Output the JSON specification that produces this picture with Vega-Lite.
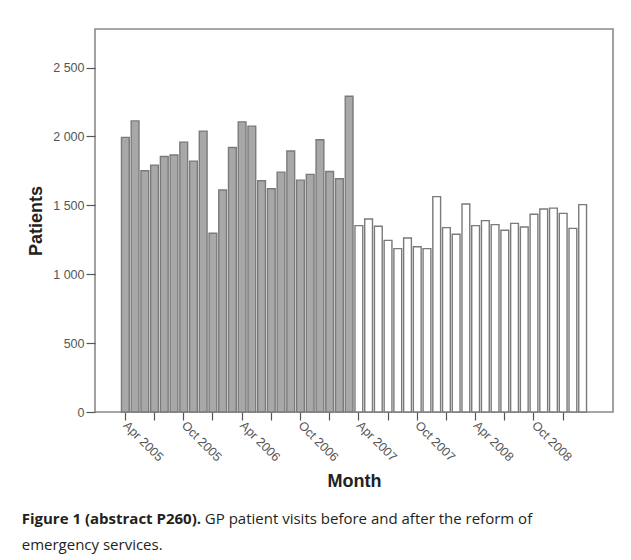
{
  "$schema": "https://vega.github.io/schema/vega-lite/v6.json",
  "width": 518,
  "height": 383,
  "autosize": {"type": "none"},
  "padding": {"left": 95, "top": 29, "right": 18, "bottom": 148},
  "background": "white",
  "title": {
    "text": "Figure 1 (abstract P260).",
    "subtitle": ["\u200b\u00a0\u00a0\u00a0\u00a0\u00a0\u00a0\u00a0\u00a0\u00a0\u00a0\u00a0\u00a0\u00a0\u00a0\u00a0\u00a0\u00a0\u00a0\u00a0\u00a0\u00a0\u00a0\u00a0\u00a0\u00a0\u00a0\u00a0\u00a0\u00a0\u00a0\u00a0\u00a0\u00a0\u00a0\u00a0\u00a0\u00a0\u00a0\u00a0\u00a0\u00a0\u00a0\u00a0\u00a0\u00a0\u00a0\u00a0GP patient visits before and after the reform of", "emergency services."],
    "orient": "bottom",
    "anchor": "start",
    "frame": "bounds",
    "offset": 22,
    "dx": -6,
    "font": "Open Sans",
    "fontSize": 15,
    "fontWeight": "bold",
    "color": "#231f20",
    "subtitleFont": "Open Sans",
    "subtitleFontSize": 15,
    "subtitleFontWeight": "normal",
    "subtitleColor": "#231f20",
    "subtitleLineHeight": 26,
    "subtitlePadding": -15
  },
  "data": {
    "values": [
      {"month": "Apr 2005", "patients": 1993, "period": "before"},
      {"month": "May 2005", "patients": 2113, "period": "before"},
      {"month": "Jun 2005", "patients": 1751, "period": "before"},
      {"month": "Jul 2005", "patients": 1792, "period": "before"},
      {"month": "Aug 2005", "patients": 1855, "period": "before"},
      {"month": "Sep 2005", "patients": 1865, "period": "before"},
      {"month": "Oct 2005", "patients": 1959, "period": "before"},
      {"month": "Nov 2005", "patients": 1821, "period": "before"},
      {"month": "Dec 2005", "patients": 2039, "period": "before"},
      {"month": "Jan 2006", "patients": 1297, "period": "before"},
      {"month": "Feb 2006", "patients": 1611, "period": "before"},
      {"month": "Mar 2006", "patients": 1920, "period": "before"},
      {"month": "Apr 2006", "patients": 2106, "period": "before"},
      {"month": "May 2006", "patients": 2075, "period": "before"},
      {"month": "Jun 2006", "patients": 1679, "period": "before"},
      {"month": "Jul 2006", "patients": 1621, "period": "before"},
      {"month": "Aug 2006", "patients": 1741, "period": "before"},
      {"month": "Sep 2006", "patients": 1894, "period": "before"},
      {"month": "Oct 2006", "patients": 1683, "period": "before"},
      {"month": "Nov 2006", "patients": 1725, "period": "before"},
      {"month": "Dec 2006", "patients": 1976, "period": "before"},
      {"month": "Jan 2007", "patients": 1746, "period": "before"},
      {"month": "Feb 2007", "patients": 1693, "period": "before"},
      {"month": "Mar 2007", "patients": 2292, "period": "before"},
      {"month": "Apr 2007", "patients": 1353, "period": "after"},
      {"month": "May 2007", "patients": 1401, "period": "after"},
      {"month": "Jun 2007", "patients": 1348, "period": "after"},
      {"month": "Jul 2007", "patients": 1246, "period": "after"},
      {"month": "Aug 2007", "patients": 1186, "period": "after"},
      {"month": "Sep 2007", "patients": 1263, "period": "after"},
      {"month": "Oct 2007", "patients": 1200, "period": "after"},
      {"month": "Nov 2007", "patients": 1186, "period": "after"},
      {"month": "Dec 2007", "patients": 1563, "period": "after"},
      {"month": "Jan 2008", "patients": 1338, "period": "after"},
      {"month": "Feb 2008", "patients": 1290, "period": "after"},
      {"month": "Mar 2008", "patients": 1510, "period": "after"},
      {"month": "Apr 2008", "patients": 1353, "period": "after"},
      {"month": "May 2008", "patients": 1389, "period": "after"},
      {"month": "Jun 2008", "patients": 1360, "period": "after"},
      {"month": "Jul 2008", "patients": 1319, "period": "after"},
      {"month": "Aug 2008", "patients": 1369, "period": "after"},
      {"month": "Sep 2008", "patients": 1343, "period": "after"},
      {"month": "Oct 2008", "patients": 1435, "period": "after"},
      {"month": "Nov 2008", "patients": 1473, "period": "after"},
      {"month": "Dec 2008", "patients": 1480, "period": "after"},
      {"month": "Jan 2009", "patients": 1442, "period": "after"},
      {"month": "Feb 2009", "patients": 1333, "period": "after"},
      {"month": "Mar 2009", "patients": 1505, "period": "after"}
    ]
  },
  "mark": {"type": "bar", "stroke": "#7a7a7a", "strokeWidth": 1.4},
  "encoding": {
    "x": {
      "field": "month",
      "type": "ordinal",
      "sort": null,
      "scale": {
        "domain": ["Feb 2005", "Mar 2005", "Apr 2005", "May 2005", "Jun 2005", "Jul 2005", "Aug 2005", "Sep 2005", "Oct 2005", "Nov 2005", "Dec 2005", "Jan 2006", "Feb 2006", "Mar 2006", "Apr 2006", "May 2006", "Jun 2006", "Jul 2006", "Aug 2006", "Sep 2006", "Oct 2006", "Nov 2006", "Dec 2006", "Jan 2007", "Feb 2007", "Mar 2007", "Apr 2007", "May 2007", "Jun 2007", "Jul 2007", "Aug 2007", "Sep 2007", "Oct 2007", "Nov 2007", "Dec 2007", "Jan 2008", "Feb 2008", "Mar 2008", "Apr 2008", "May 2008", "Jun 2008", "Jul 2008", "Aug 2008", "Sep 2008", "Oct 2008", "Nov 2008", "Dec 2008", "Jan 2009", "Feb 2009", "Mar 2009", "Apr 2009", "May 2009"],
        "paddingInner": 0.2,
        "paddingOuter": 0.72
      },
      "axis": {
        "title": "Month",
        "titleFont": "Liberation Sans",
        "titleFontSize": 18,
        "titleFontWeight": "bold",
        "titleColor": "#222",
        "titlePadding": 9,
        "values": ["Apr 2005", "Jul 2005", "Oct 2005", "Jan 2006", "Apr 2006", "Jul 2006", "Oct 2006", "Jan 2007", "Apr 2007", "Jul 2007", "Oct 2007", "Jan 2008", "Apr 2008", "Jul 2008", "Oct 2008", "Jan 2009"],
        "labelExpr": "indexof(datum.value, 'Apr') == 0 || indexof(datum.value, 'Oct') == 0 ? datum.value : ''",
        "labelAngle": 45,
        "labelAlign": "left",
        "labelBaseline": "middle",
        "labelFont": "Liberation Sans",
        "labelFontSize": 12.5,
        "labelColor": "#555",
        "labelPadding": 3,
        "labelOverlap": false,
        "tickSize": 8,
        "tickColor": "#555",
        "tickWidth": 1.2,
        "domain": false,
        "grid": false
      }
    },
    "y": {
      "field": "patients",
      "type": "quantitative",
      "scale": {"domain": [0, 2780], "nice": false},
      "axis": {
        "title": "Patients",
        "titleFont": "Liberation Sans",
        "titleFontSize": 18,
        "titleFontWeight": "bold",
        "titleColor": "#222",
        "titlePadding": 7,
        "values": [0, 500, 1000, 1500, 2000, 2500],
        "labelExpr": "replace(format(datum.value, ','), ',', ' ')",
        "labelFont": "Liberation Sans",
        "labelFontSize": 12.5,
        "labelColor": "#555",
        "labelPadding": 2,
        "tickSize": 9,
        "tickColor": "#555",
        "tickWidth": 1.2,
        "domain": false,
        "grid": false
      }
    },
    "fill": {
      "field": "period",
      "type": "nominal",
      "scale": {"domain": ["before", "after"], "range": ["#a8a8a8", "#ffffff"]},
      "legend": null
    }
  },
  "config": {
    "view": {"stroke": "#8a8a8a", "strokeWidth": 1.6}
  }
}
